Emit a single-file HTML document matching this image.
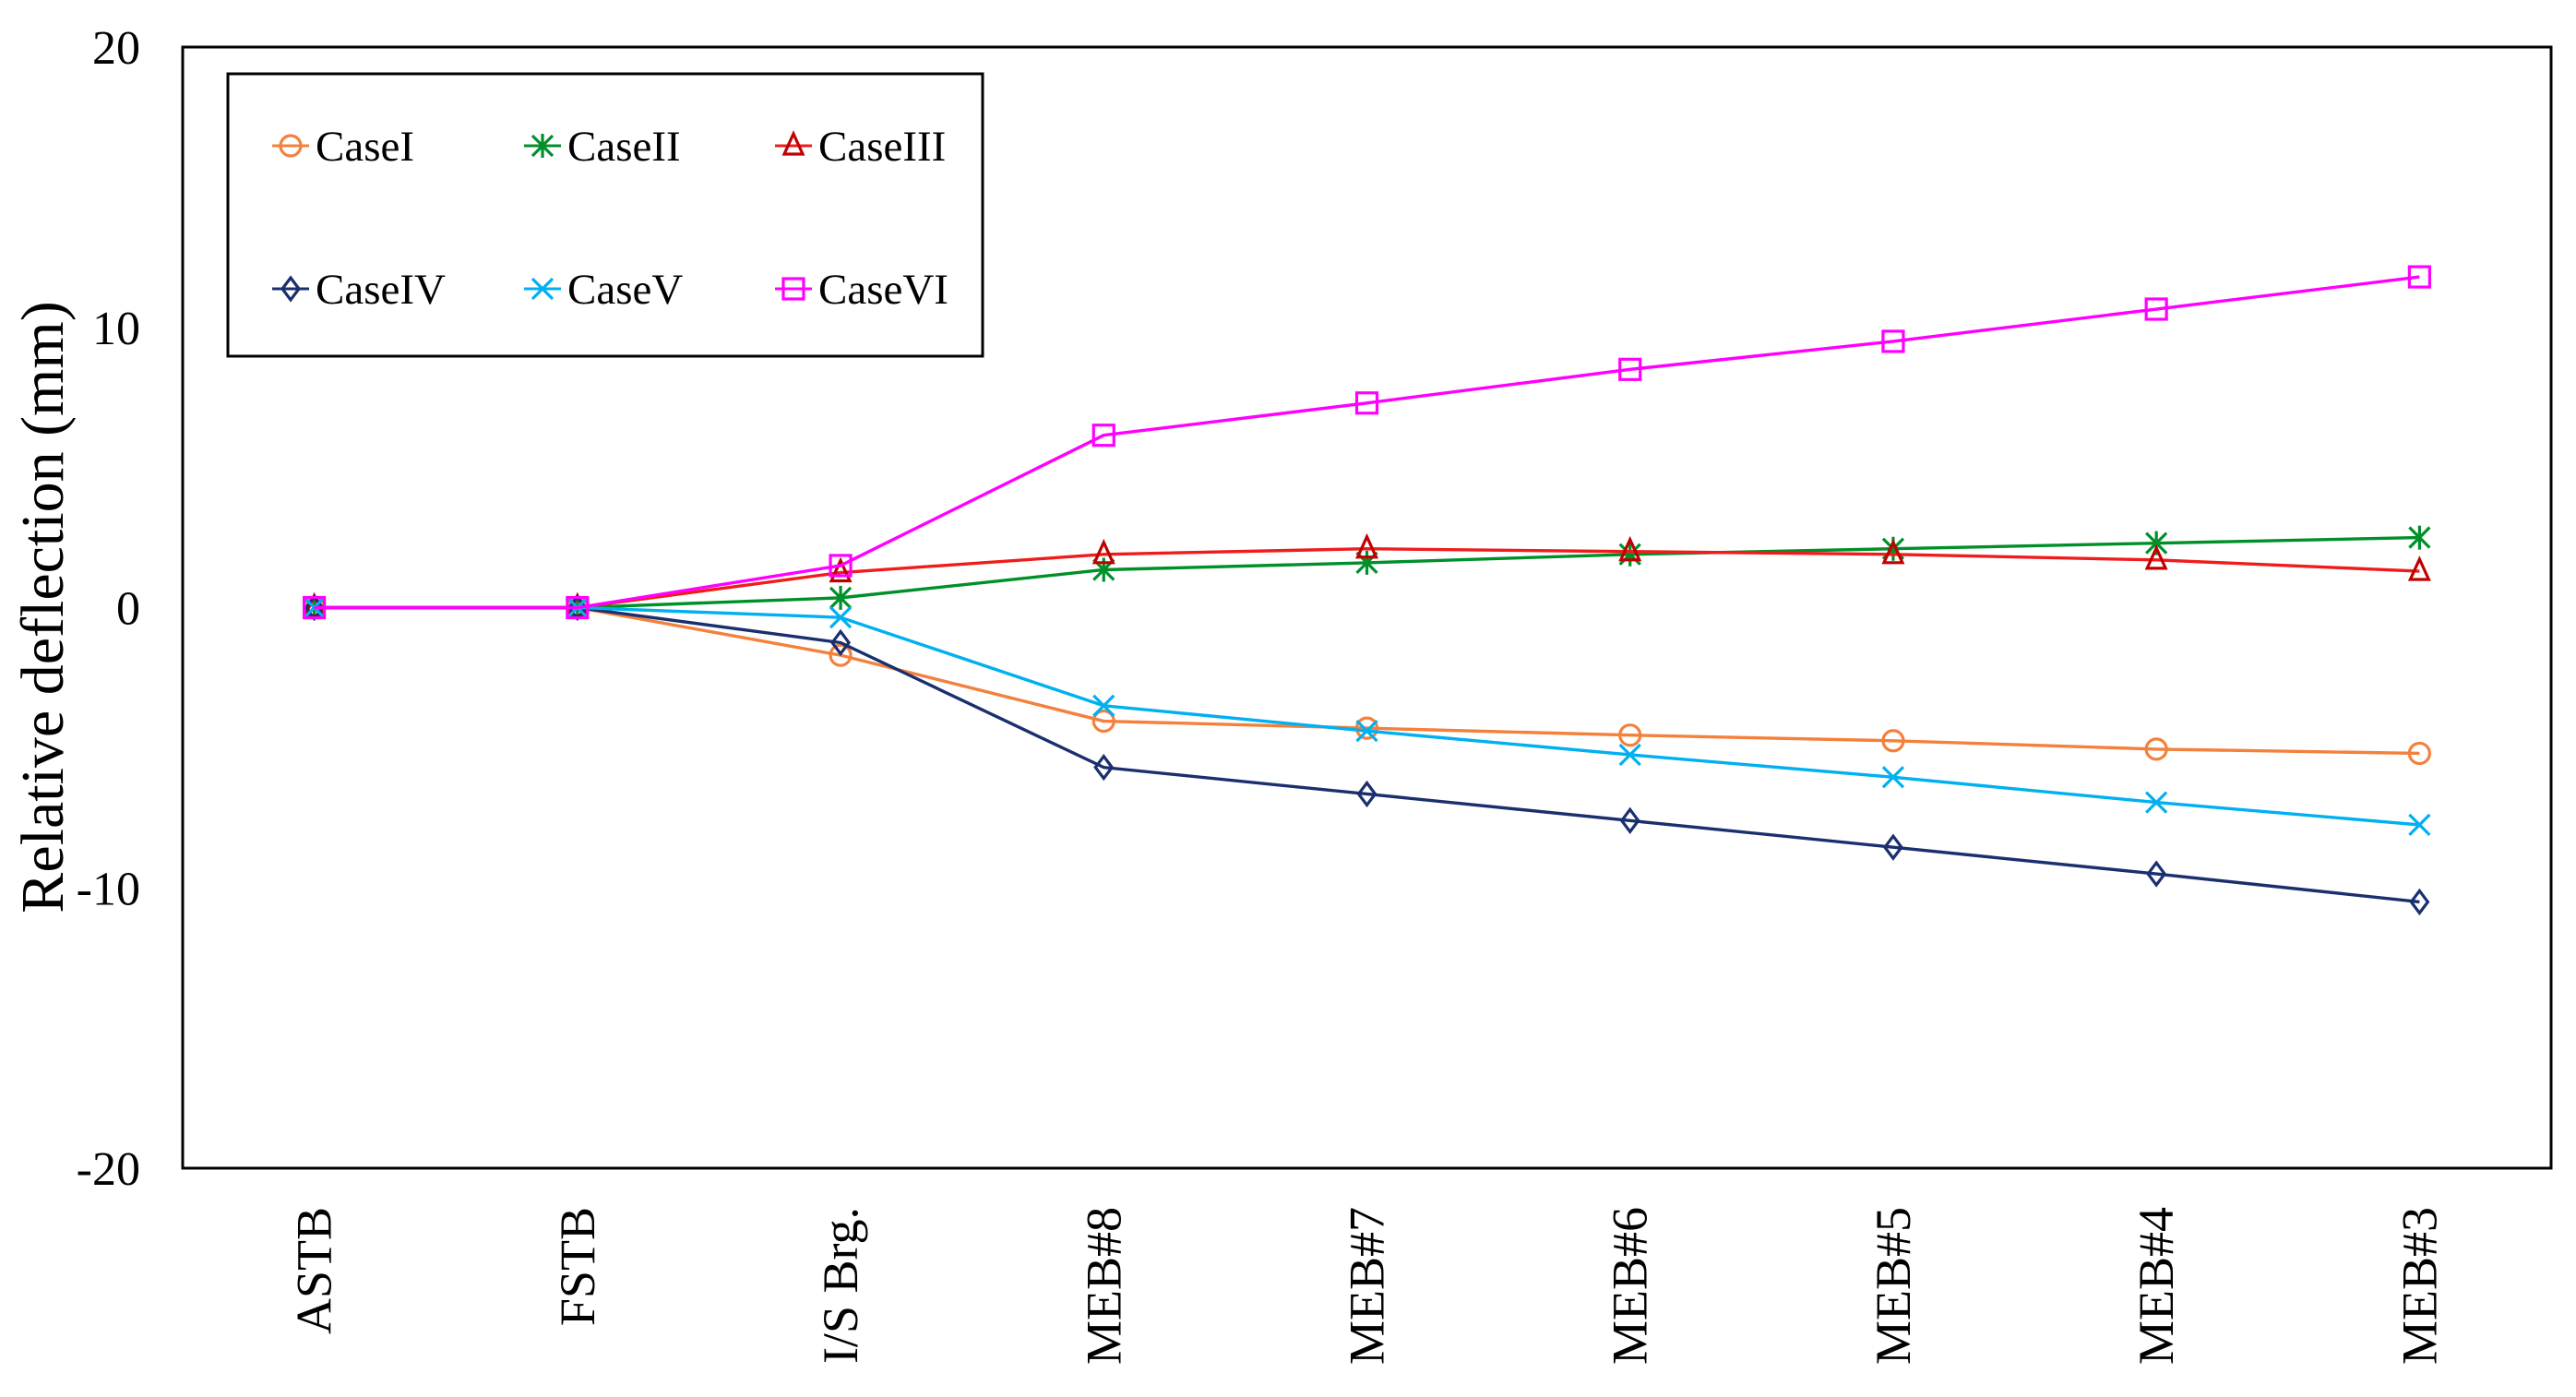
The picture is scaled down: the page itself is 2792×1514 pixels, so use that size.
<!DOCTYPE html>
<html><head><meta charset="utf-8"><style>
html,body{margin:0;padding:0;background:#fff;}
svg{display:block;font-family:"Liberation Serif",serif;}
</style></head><body>
<svg id="chart" width="2792" height="1514" viewBox="0 0 2792 1514" xmlns="http://www.w3.org/2000/svg">
<rect x="198" y="51" width="2567" height="1215" fill="none" stroke="#000" stroke-width="3"/>
<text transform="translate(68,658) rotate(-90)" text-anchor="middle" font-size="66" font-family="Liberation Serif, serif">Relative deflection (mm)</text>
<g id="yticks"></g><g id="xticks"></g><g id="series"></g>
<rect x="247" y="80" width="818" height="306" fill="#fff" stroke="#000" stroke-width="3"/>
<g id="legend"></g>
</svg>
<script>
const categories=["ASTB","FSTB","I/S Brg.","MEB#8","MEB#7","MEB#6","MEB#5","MEB#4","MEB#3"];
const yTicks=[20,10,0,-10,-20];
const seriesNames=["CaseI","CaseII","CaseIII","CaseIV","CaseV","CaseVI"];
const caseI=[0,0,-1.7,-4.05,-4.3,-4.55,-4.75,-5.05,-5.2];
const caseII=[0,0,0.35,1.35,1.6,1.9,2.1,2.3,2.5];
const caseIII=[0,0,1.25,1.9,2.1,2.0,1.9,1.7,1.3];
const caseIV=[0,0,-1.25,-5.7,-6.65,-7.6,-8.55,-9.5,-10.5];
const caseV=[0,0,-0.35,-3.5,-4.4,-5.25,-6.05,-6.95,-7.75];
const caseVI=[0,0,1.5,6.15,7.3,8.5,9.5,10.65,11.8];

const NS="http://www.w3.org/2000/svg";
const L=198,T=51,W=2567,H=1215,yMin=-20,yMax=20;
const xs=i=>L+W/categories.length*(i+0.5);
const ys=v=>T+(yMax-v)/(yMax-yMin)*H;
function mk(tag,attrs,parent){const e=document.createElementNS(NS,tag);for(const k in attrs)e.setAttribute(k,attrs[k]);parent.appendChild(e);return e;}

const yg=document.getElementById('yticks');
yTicks.forEach(v=>{const t=mk('text',{x:152,y:ys(v)+18,'text-anchor':'end','font-size':52},yg);t.textContent=v;

});
const xg=document.getElementById('xticks');
categories.forEach((c,i)=>{const t=mk('text',{transform:`translate(${xs(i)+18},1308) rotate(-90)`,'text-anchor':'end','font-size':54},xg);t.textContent=c;

});

const styles=[
 {d:caseI,line:"#f4803c",mc:"#f4803c",m:"circle"},
 {d:caseII,line:"#00902a",mc:"#00902a",m:"star"},
 {d:caseIII,line:"#f01c1c",mc:"#c00000",m:"triangle"},
 {d:caseIV,line:"#1a2f6e",mc:"#1a2f6e",m:"diamond"},
 {d:caseV,line:"#00b0f0",mc:"#00b0f0",m:"x"},
 {d:caseVI,line:"#ff00ff",mc:"#ff00ff",m:"square"}];
function marker(type,x,y,c,g){const s=11,a={fill:'none',stroke:c,'stroke-width':3.2};let e;
 if(type==='circle')e=mk('circle',Object.assign({cx:x,cy:y,r:s},a),g);
 else if(type==='square')e=mk('rect',Object.assign({x:x-s,y:y-s,width:2*s,height:2*s},a),g);
 else if(type==='diamond')e=mk('path',Object.assign({d:`M${x},${y-s-1}L${x+s-2},${y}L${x},${y+s+1}L${x-s+2},${y}Z`},a),g);
 else if(type==='triangle')e=mk('path',Object.assign({d:`M${x},${y-s-2}L${x+s-1},${y+s-2}L${x-s+1},${y+s-2}Z`},a),g);
 else if(type==='x')e=mk('path',Object.assign({d:`M${x-s},${y-s}L${x+s},${y+s}M${x+s},${y-s}L${x-s},${y+s}`},a),g);
 else e=mk('path',Object.assign({d:`M${x-s},${y-s}L${x+s},${y+s}M${x+s},${y-s}L${x-s},${y+s}M${x},${y-s-2}L${x},${y+s+2}`},a),g);
 return e;}
const sg=document.getElementById('series');
styles.forEach((s,k)=>{const g=mk('g',{},sg);
 
 
 const p=mk('polyline',{points:s.d.map((v,i)=>xs(i)+','+ys(v)).join(' '),fill:'none',stroke:s.line,'stroke-width':3.4},g);
 
 
 s.d.forEach((v,i)=>{const m=marker(s.m,xs(i),ys(v),s.mc,g);
  
  });});

const lg=document.getElementById('legend');
const colX=[315,588,860],rowY=[158,313];
styles.forEach((s,k)=>{const cx=colX[k%3],cy=rowY[Math.floor(k/3)];const g=mk('g',{},lg);
 
 
 mk('line',{x1:cx-20,y1:cy,x2:cx+20,y2:cy,stroke:s.line,'stroke-width':3},g);
 marker(s.m,cx,cy,s.mc,g);
 const t=mk('text',{x:cx+27,y:cy+16,'font-size':47},g);t.textContent=seriesNames[k];});
</script>
</body></html>
